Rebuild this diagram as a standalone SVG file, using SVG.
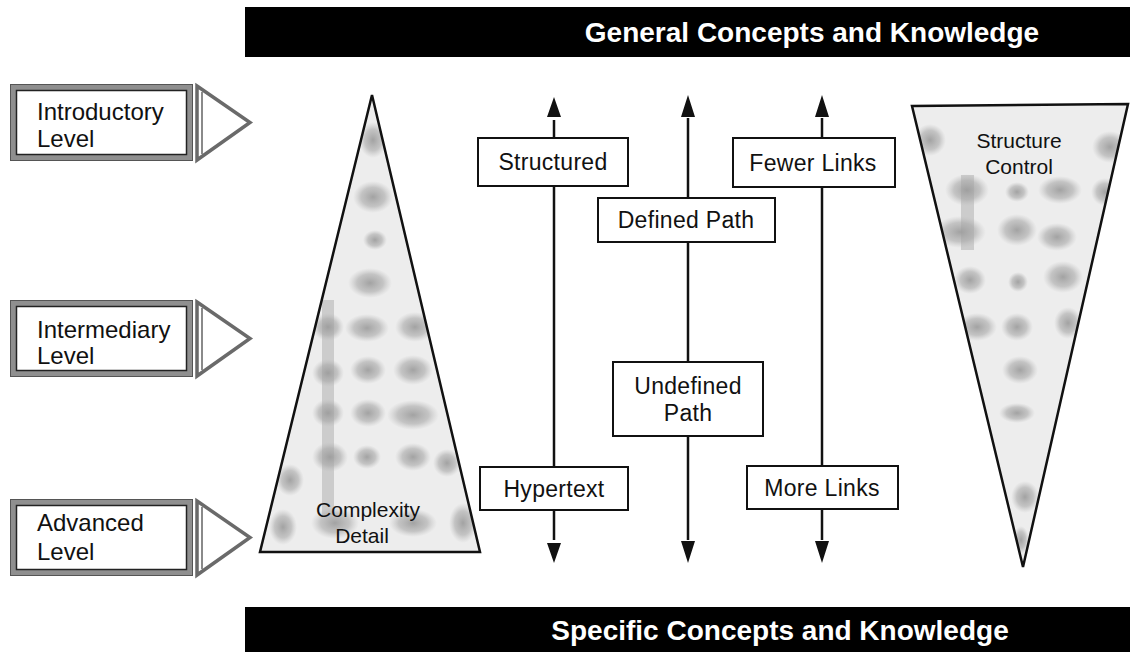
<svg xmlns="http://www.w3.org/2000/svg" width="1130" height="652" viewBox="0 0 1130 652">
<style>
.lvl{font-family:"Liberation Sans",Arial,sans-serif;font-size:24px;fill:#111}
.lbl{font-family:"Liberation Sans",Arial,sans-serif;font-size:23px;fill:#111;text-anchor:middle;letter-spacing:0.3px}
.tlbl{font-family:"Liberation Sans",Arial,sans-serif;font-size:21px;fill:#111;text-anchor:middle}
.bar{font-family:"Liberation Sans",Arial,sans-serif;font-size:28px;font-weight:bold;fill:#fff;text-anchor:middle}
.box{fill:#fff;stroke:#111;stroke-width:2}
.conn{stroke:#111;stroke-width:2.5;fill:none}
.tri{stroke:#111;stroke-width:2.5}
.blob{fill:url(#blobGrad)}
</style>
<defs>
<radialGradient id="blobGrad">
<stop offset="0" stop-color="#9a9a9a" stop-opacity="0.9"/>
<stop offset="0.6" stop-color="#a8a8a8" stop-opacity="0.6"/>
<stop offset="1" stop-color="#bbbbbb" stop-opacity="0"/>
</radialGradient>
<g id="levelShape">
<rect x="13" y="3" width="177" height="71" fill="#fff" stroke="#8f8f8f" stroke-width="6"/>
<rect x="10.5" y="0.5" width="182" height="76" fill="none" stroke="#555" stroke-width="1"/>
<rect x="16.5" y="6.5" width="170" height="64" fill="none" stroke="#222" stroke-width="1.5"/>
<polygon points="197,2 250,38.5 197,76" fill="#fff" stroke="#6a6a6a" stroke-width="3.5" stroke-linejoin="miter"/>
<line x1="202" y1="8" x2="202" y2="70" stroke="#8a8a8a" stroke-width="2"/>
</g>
<clipPath id="clipL"><polygon points="372,95 260,552 480,552"/></clipPath>
<clipPath id="clipR"><polygon points="912,106 1128,104 1023,567"/></clipPath>
</defs>
<rect width="1130" height="652" fill="#fff"/>

<g id="bar-top">
<rect x="245" y="7" width="885" height="50" fill="#000"/>
<text class="bar" x="812" y="42">General Concepts and Knowledge</text>
</g>
<g id="bar-bottom">
<rect x="245" y="607" width="885" height="45" fill="#000"/>
<text class="bar" x="780" y="640">Specific Concepts and Knowledge</text>
</g>

<g id="level-introductory">
<use href="#levelShape" transform="translate(0,84)"/>
<text class="lvl" x="37" y="120">Introductory</text>
<text class="lvl" x="37" y="147">Level</text>
</g>
<g id="level-intermediary">
<use href="#levelShape" transform="translate(0,300)"/>
<text class="lvl" x="37" y="338">Intermediary</text>
<text class="lvl" x="37" y="364">Level</text>
</g>
<g id="level-advanced">
<use href="#levelShape" transform="translate(0,499)"/>
<text class="lvl" x="37" y="531">Advanced</text>
<text class="lvl" x="37" y="560">Level</text>
</g>

<g id="complexity-detail">
<polygon points="372,95 260,552 480,552" fill="#ededed"/>
<g clip-path="url(#clipL)">
<rect x="322" y="300" width="12" height="215" fill="#b5b5b5" opacity="0.6"/>
<ellipse class="blob" cx="373" cy="140" rx="14" ry="18"/>
<ellipse class="blob" cx="373" cy="197" rx="20" ry="16"/>
<ellipse class="blob" cx="375" cy="240" rx="12" ry="10"/>
<ellipse class="blob" cx="370" cy="283" rx="22" ry="15"/>
<ellipse class="blob" cx="328" cy="327" rx="16" ry="14"/>
<ellipse class="blob" cx="367" cy="328" rx="22" ry="14"/>
<ellipse class="blob" cx="415" cy="327" rx="20" ry="15"/>
<ellipse class="blob" cx="368" cy="370" rx="18" ry="14"/>
<ellipse class="blob" cx="413" cy="370" rx="20" ry="15"/>
<ellipse class="blob" cx="328" cy="373" rx="16" ry="14"/>
<ellipse class="blob" cx="368" cy="413" rx="18" ry="14"/>
<ellipse class="blob" cx="413" cy="415" rx="26" ry="15"/>
<ellipse class="blob" cx="328" cy="413" rx="16" ry="14"/>
<ellipse class="blob" cx="330" cy="457" rx="18" ry="15"/>
<ellipse class="blob" cx="367" cy="457" rx="14" ry="12"/>
<ellipse class="blob" cx="413" cy="457" rx="18" ry="14"/>
<ellipse class="blob" cx="447" cy="463" rx="14" ry="14"/>
<ellipse class="blob" cx="290" cy="480" rx="14" ry="16"/>
<ellipse class="blob" cx="335" cy="523" rx="24" ry="16"/>
<ellipse class="blob" cx="413" cy="523" rx="24" ry="14"/>
<ellipse class="blob" cx="463" cy="523" rx="14" ry="20"/>
<ellipse class="blob" cx="283" cy="527" rx="14" ry="18"/>
</g>
<polygon class="tri" points="372,95 260,552 480,552" fill="none"/>
<text class="tlbl" x="368" y="517">Complexity</text>
<text class="tlbl" x="362" y="543">Detail</text>
</g>

<g id="structure-control">
<polygon points="912,106 1128,104 1023,567" fill="#ededed"/>
<g clip-path="url(#clipR)">
<rect x="961" y="175" width="13" height="75" fill="#b5b5b5" opacity="0.6"/>
<ellipse class="blob" cx="930" cy="140" rx="16" ry="16"/>
<ellipse class="blob" cx="1110" cy="147" rx="18" ry="16"/>
<ellipse class="blob" cx="967" cy="190" rx="22" ry="16"/>
<ellipse class="blob" cx="1017" cy="192" rx="12" ry="10"/>
<ellipse class="blob" cx="1060" cy="190" rx="22" ry="14"/>
<ellipse class="blob" cx="1105" cy="192" rx="14" ry="14"/>
<ellipse class="blob" cx="960" cy="232" rx="26" ry="16"/>
<ellipse class="blob" cx="1017" cy="230" rx="20" ry="16"/>
<ellipse class="blob" cx="1057" cy="237" rx="20" ry="14"/>
<ellipse class="blob" cx="970" cy="280" rx="16" ry="14"/>
<ellipse class="blob" cx="1018" cy="282" rx="10" ry="10"/>
<ellipse class="blob" cx="1063" cy="277" rx="20" ry="16"/>
<ellipse class="blob" cx="977" cy="327" rx="20" ry="14"/>
<ellipse class="blob" cx="1017" cy="327" rx="16" ry="14"/>
<ellipse class="blob" cx="1068" cy="323" rx="14" ry="16"/>
<ellipse class="blob" cx="1020" cy="370" rx="18" ry="14"/>
<ellipse class="blob" cx="1017" cy="413" rx="18" ry="10"/>
<ellipse class="blob" cx="1025" cy="497" rx="14" ry="16"/>
<ellipse class="blob" cx="1021" cy="540" rx="8" ry="14"/>
</g>
<polygon class="tri" points="912,106 1128,104 1023,567" fill="none"/>
<text class="tlbl" x="1019" y="148">Structure</text>
<text class="tlbl" x="1019" y="174">Control</text>
</g>

<g id="connectors">
<line class="conn" x1="554" y1="120" x2="554" y2="540"/>
<line class="conn" x1="688" y1="118" x2="688" y2="540"/>
<line class="conn" x1="822" y1="118" x2="822" y2="540"/>
<path d="M554,97 L547,117 L561,117 Z M554,563 L547,543 L561,543 Z" fill="#111"/>
<path d="M688,95 L681,117 L695,117 Z M688,563 L681,541 L695,541 Z" fill="#111"/>
<path d="M822,95 L815,117 L829,117 Z M822,563 L815,541 L829,541 Z" fill="#111"/>
</g>

<g id="node-structured">
<rect class="box" x="478" y="138" width="150" height="48"/>
<text class="lbl" x="553" y="170">Structured</text>
</g>
<g id="node-defined-path">
<rect class="box" x="598" y="198" width="177" height="44"/>
<text class="lbl" x="686" y="228">Defined Path</text>
</g>
<g id="node-fewer-links">
<rect class="box" x="733" y="138" width="162" height="49"/>
<text class="lbl" x="813" y="171">Fewer Links</text>
</g>
<g id="node-undefined-path">
<rect class="box" x="613" y="362" width="150" height="74"/>
<text class="lbl" x="688" y="394">Undefined</text>
<text class="lbl" x="688" y="421">Path</text>
</g>
<g id="node-hypertext">
<rect class="box" x="480" y="467" width="148" height="43"/>
<text class="lbl" x="554" y="497">Hypertext</text>
</g>
<g id="node-more-links">
<rect class="box" x="747" y="466" width="151" height="43"/>
<text class="lbl" x="822" y="496">More Links</text>
</g>
</svg>
